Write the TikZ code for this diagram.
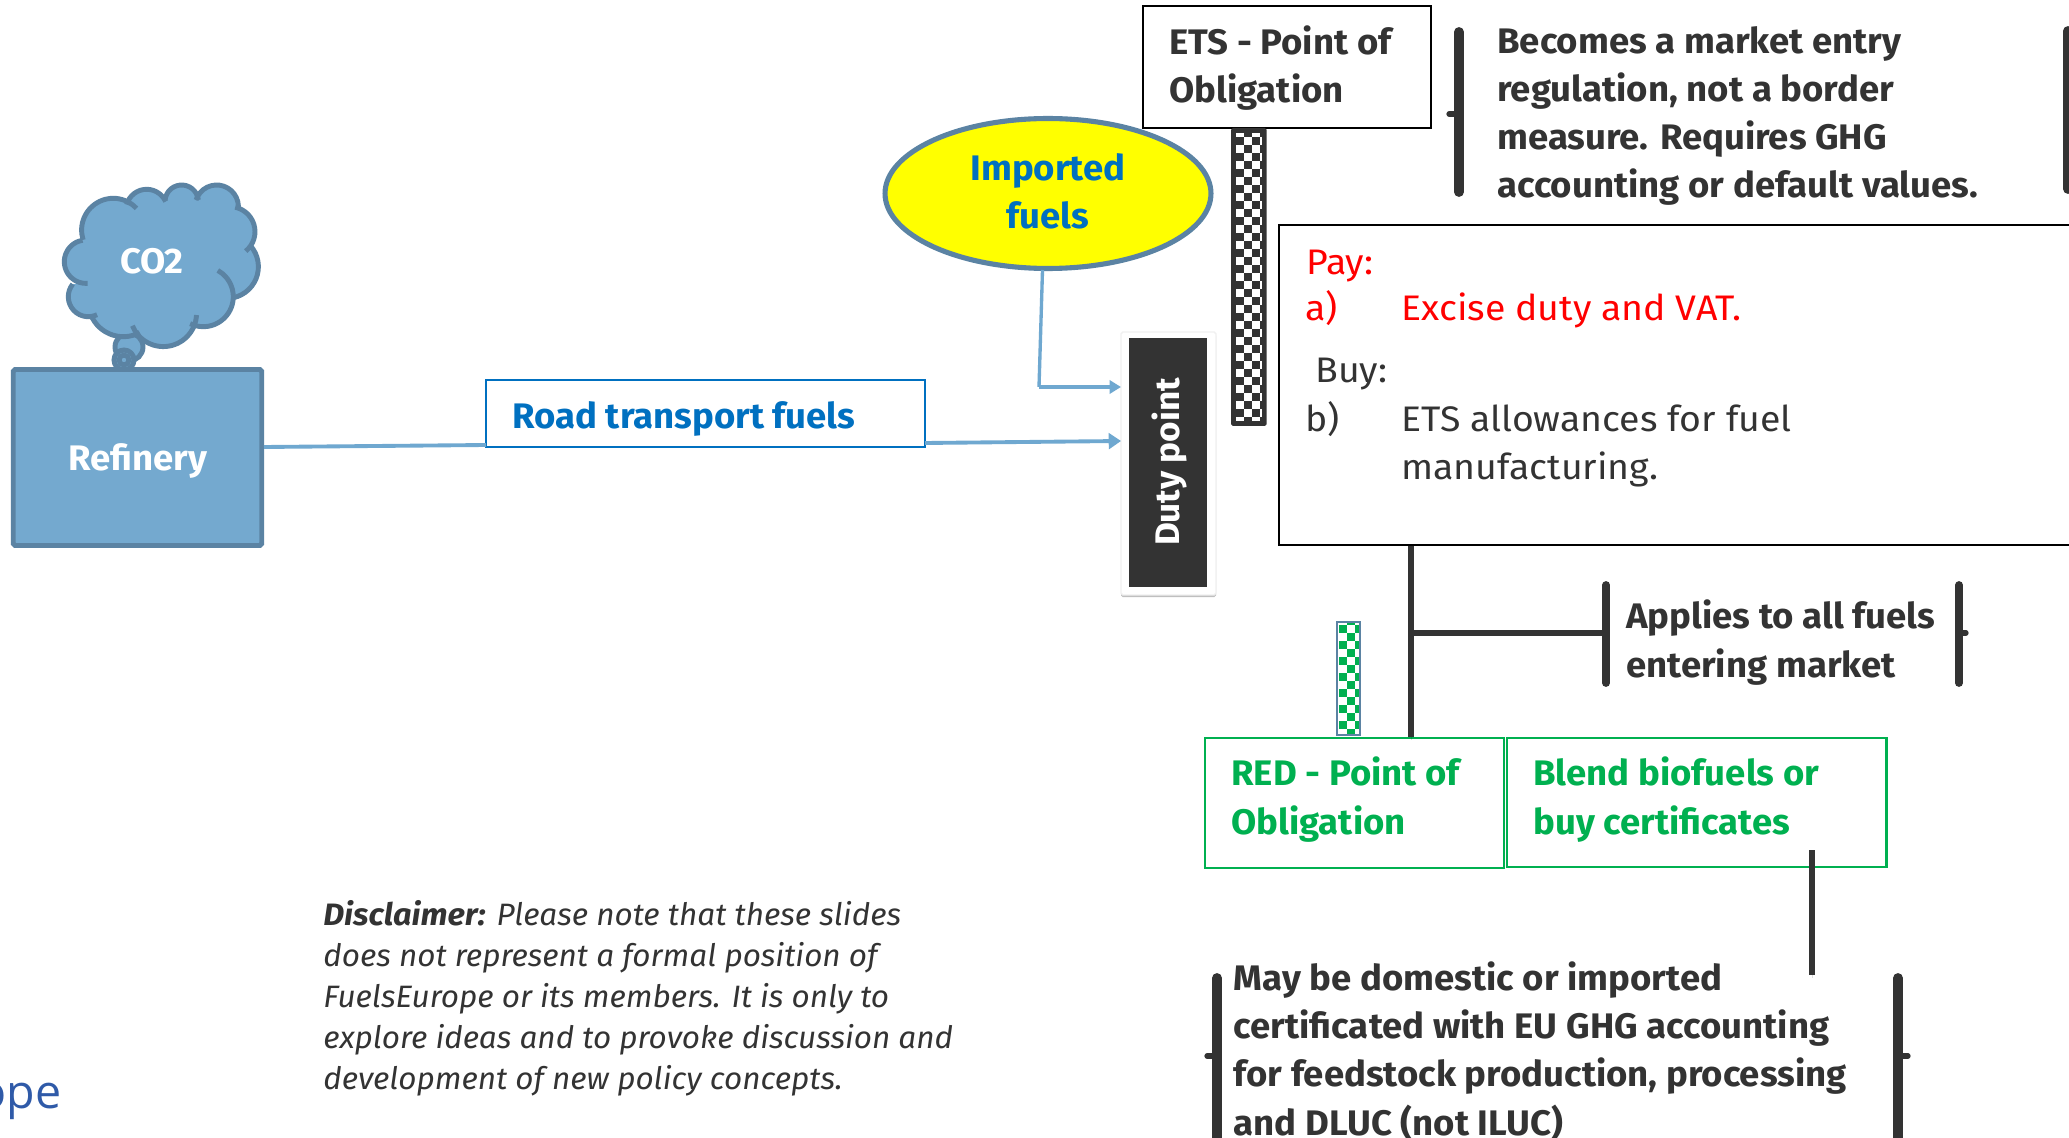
\documentclass[tikz,border=0pt]{standalone}
\usepackage{fontspec}
\setmainfont{Fira Sans}[UprightFeatures={FakeStretch=1.055},BoldFeatures={FakeStretch=1.03},ItalicFeatures={FakeStretch=1.019},BoldItalicFeatures={FakeStretch=1.05}]
\newfontfamily\logofont{Open Sans}
\usetikzlibrary{arrows.meta,shadows,shapes.geometric}
\definecolor{steel}{HTML}{5B83A3}
\definecolor{skyfill}{HTML}{74A9CF}
\definecolor{ink}{HTML}{333333}
\definecolor{rblue}{HTML}{0070C0}
\definecolor{rgreen}{HTML}{00B050}
\definecolor{linkblue}{HTML}{6FA8D0}
\definecolor{logoblue}{HTML}{2F5AA8}
\definecolor{pureyellow}{RGB}{255,255,0}
\definecolor{purered}{RGB}{255,0,0}
\newcommand{\sz}{\fontsize{20.2}{27.4}\selectfont}
\tikzset{
  x=0.02cm,y=-0.02cm,
  cl/.style={smooth,samples=16,variable=\t},
  txt/.style={inner sep=0pt,anchor=base west,align=left,font=\sz\bfseries,text=ink},
  plain/.style={txt,font=\sz},
  soft/.style={preaction={draw=black,opacity=.13,transform canvas={yshift=-1.6pt}}},
  bar/.style={soft,draw=ink,line width=5.6pt,line cap=round},
  midbar/.style={soft,draw=ink,line width=4.4pt,line cap=round},
  tick/.style={draw=ink,line width=3pt,line cap=round},
  thin link/.style={soft,draw=ink,line width=3.2pt},
  feed/.style={draw=linkblue,line width=1.9pt,-{Triangle[length=6.5pt,width=7.5pt]}},
  cloudline/.style={draw=steel,line width=2.8pt},
  gbox/.style={draw=rgreen,line width=1.2pt,fill=white},
  bbox/.style={draw=black,line width=1.1pt,fill=white}
}
\begin{document}
\begin{tikzpicture}
\useasboundingbox (0,0) rectangle (2069,1138);
\fill[white] (0,0) rectangle (2069,1138);

% thought bubble and cloud
\draw[cloudline,fill=skyfill] (129,347) circle (14);
\draw[cloudline,fill=skyfill] (124,360) circle (10);
\draw[cloudline] (124,360) circle (5);
\fill[skyfill] plot[cl,domain=86:261]({86+21.7*cos(\t)},{261.7+21.7*sin(\t)})
  -- plot[cl,domain=162:317]({113.3+31.7*cos(\t)},{230+31.7*sin(\t)})
  -- plot[cl,domain=195:336]({146.7+20.7*cos(\t)},{210+20.7*sin(\t)})
  -- plot[cl,domain=186:354]({181.7+16.7*cos(\t)},{201.7+16.7*sin(\t)})
  -- plot[cl,domain=198:369]({216.7+21.7*cos(\t)},{206.7+21.7*sin(\t)})
  -- plot[cl,domain=282:411]({230+25*cos(\t)},{231.7+25*sin(\t)})
  -- plot[cl,domain=319:438]({226.7+31.7*cos(\t)},{266.7+31.7*sin(\t)})
  -- plot[cl,domain=299:476]({203.3+30*cos(\t)},{296.7+30*sin(\t)})
  -- plot[cl,domain=3:158]({163.3+33.3*cos(\t)},{313.3+33.3*sin(\t)})
  -- plot[cl,domain=62:158]({123.3+35*cos(\t)},{301.7+35*sin(\t)})
  -- plot[cl,domain=64:219]({88.3+20*cos(\t)},{296.7+20*sin(\t)}) -- cycle;
\foreach \cx/\cy/\cr/\ca/\cb in {86/261.7/21.7/86/261,113.3/230/31.7/162/317,146.7/210/20.7/195/336,181.7/201.7/16.7/186/354,216.7/206.7/21.7/198/369,230/231.7/25/282/411,226.7/266.7/31.7/319/438,203.3/296.7/30/299/476,163.3/313.3/33.3/3/158,123.3/301.7/35/62/158,88.3/296.7/20/64/219}{
  \draw[cloudline] plot[cl,domain=\ca:\cb]({\cx+\cr*cos(\t)},{\cy+\cr*sin(\t)});
}
\node[txt,text=white,anchor=base] (co2) at (152,274) {CO2};

% refinery
\node[draw=steel,fill=skyfill,line width=2.8pt,rounded corners=1pt,minimum width=4.97cm,minimum height=3.52cm,inner sep=0pt] (refinery) at (137.5,457.5) {};
\node[txt,text=white,anchor=base] (refinerytxt) at (138,470) {Refinery};

% road fuels
\node[draw=rblue,line width=1.1pt,fill=white,minimum width=8.78cm,minimum height=1.34cm,anchor=north west,inner sep=0pt] (road) at (485,379) {};
\node[txt,text=rblue] (roadtxt) at (512,428) {Road transport fuels};

% duty point
\node[fill=white,draw=black!6,line width=.8pt,minimum width=1.9cm,minimum height=5.26cm,inner sep=0pt,rounded corners=1pt,drop shadow={shadow xshift=0pt,shadow yshift=-1.2pt,fill=black,opacity=.25}] (dutyouter) at (1168.5,463.5) {};
\node[fill=ink,minimum width=1.57cm,minimum height=4.98cm,inner sep=0pt] (duty) at (1168.2,462.5) {};
\node[font=\fontsize{19.4}{24}\selectfont\bfseries,text=white,rotate=90,inner sep=0pt] (dutytxt) at (1169,462) {Duty point};

% imported fuels
\node[ellipse,draw=steel,fill=pureyellow,line width=2.9pt,minimum width=6.52cm,minimum height=3cm,inner sep=0pt] (imported) at (1048,193.5) {};
\node[txt,text=rblue,anchor=base,align=center] (importedtxt) at (1048,229) {Imported\\fuels};
\coordinate (impdown) at (1039,387);
\coordinate (impout) at (1042.5,270);

% links
\coordinate (ra) at (264,447);
\coordinate (rb) at (486,445);
\coordinate (rc) at (925,443);
\coordinate (rd) at (1121,441);
\coordinate (re) at (1121,387);
\draw[draw=linkblue,line width=2.2pt] (ra) -- (rb);
\draw[draw=linkblue,line width=2.2pt,-{Triangle[length=7pt,width=9pt]}] (rc) -- (rd);
\draw[draw=linkblue,line width=1.9pt] (impout) -- (impdown);
\draw[feed] (impdown) -- (re);

% ETS
\node[bbox,minimum width=5.76cm,minimum height=2.43cm,anchor=north west,inner sep=0pt] (ets) at (1142,5.5) {};
\node[txt] (etstxt) at (1169,102.5) {ETS - Point of\\Obligation};

% checker ETS
\fill[ink,rounded corners=1pt] (1231,128) rectangle (1266.5,426);
\fill[white] (1235.7,133) rectangle (1262,421);
\begin{scope}
\clip (1235.7,133) rectangle (1262,421);
\foreach \r in {0,...,37}{\foreach \c in {0,...,3}{
  \pgfmathparse{int(mod(\r+\c,2))}
  \ifnum\pgfmathresult=1\fill[ink] ({1235.7+\c*8},{128.7+\r*8}) rectangle ++(8,8);\fi
}}
\end{scope}

% checker RED
\fill[white] (1337,621) rectangle (1360,735);
\begin{scope}
\clip (1337,621) rectangle (1360,735);
\foreach \r in {0,...,15}{\foreach \c in {0,...,3}{
  \pgfmathparse{int(mod(\r+\c,2))}
  \ifnum\pgfmathresult=1\fill[rgreen] ({1338.7+\c*8},{617+\r*8}) rectangle ++(8,8);\fi
}}
\end{scope}
\draw[draw=steel,line width=1.4pt] (1337.2,622) rectangle (1359.8,735);

% pay box
\node[bbox,minimum width=16cm,minimum height=6.41cm,anchor=north west,inner sep=0pt] (pay) at (1278,223.6) {};
\node[plain,text=purered] (paytxt) at (1306,274.5) {Pay:};
\node[plain,text=purered] (atxt) at (1305,321) {a)};
\node[plain,text=purered] (excise) at (1401,321) {Excise duty and VAT.};
\node[plain] (buytxt) at (1315,383) {Buy:};
\node[plain] (btxt) at (1305,431.5) {b)};
\node[plain] (etsallow) at (1401,479.5) {ETS allowances for fuel\\manufacturing.};

% green boxes
\node[gbox,minimum width=5.98cm,minimum height=2.6cm,anchor=north west,inner sep=0pt] (red) at (1204,737) {};
\node[txt,text=rgreen] (redtxt) at (1231,834) {RED - Point of\\Obligation};
\node[gbox,minimum width=7.6cm,minimum height=2.58cm,anchor=north west,inner sep=0pt] (blend) at (1505.5,737) {};
\node[txt,text=rgreen] (blendtxt) at (1533,834) {Blend biofuels or\\buy certificates};

% connectors dark
\coordinate (junction) at (1411,633);
\coordinate (applybar) at (1606,633);
\draw[thin link] (pay.south -| junction) -- (red.north -| junction);
\draw[thin link] (junction) -- (applybar);
\coordinate (bl0) at (1812,850);
\coordinate (bl1) at (1812,975);
\draw[thin link] (bl0) -- (bl1);

% applies
\draw[midbar] (1606,585) -- (1606,683);
\draw[midbar] (1959,585) -- (1959,683);
\draw[tick] (1959,633) -- (1966,633);
\node[txt] (applies) at (1626,677) {Applies to all fuels\\entering market};

% becomes
\draw[bar] (1459,32) -- (1459,192);
\draw[tick] (1459,114) -- (1449,114);
\draw[bar] (2068,31) -- (2068,189);
\node[txt] (becomes) at (1497,198) {Becomes a market entry\\regulation, not a border\\measure. Requires GHG\\accounting or default values.};

% may be
\draw[bar] (1217,978) -- (1217,1150);
\draw[tick] (1217,1056) -- (1207,1056);
\draw[bar] (1898,978) -- (1898,1150);
\draw[tick] (1898,1056) -- (1908,1056);
\node[txt] (maybe) at (1233.5,1135) {May be domestic or imported\\certificated with EU GHG accounting\\for feedstock production, processing\\and DLUC (not ILUC)};

% disclaimer
\node[plain,font=\fontsize{17.6}{23.2}\selectfont\itshape,anchor=base west] (disc) at (323,1089) {\textbf{Disclaimer:} Please note that these slides\\does not represent a formal position of\\FuelsEurope or its members. It is only to\\explore ideas and to provoke discussion and\\development of new policy concepts.};

% logo fragment
\node[inner sep=0pt,anchor=base east,font=\logofont\fontsize{26.5}{30}\selectfont,text=logoblue] (logo) at (62,1108) {ope};
\end{tikzpicture}
\end{document}
